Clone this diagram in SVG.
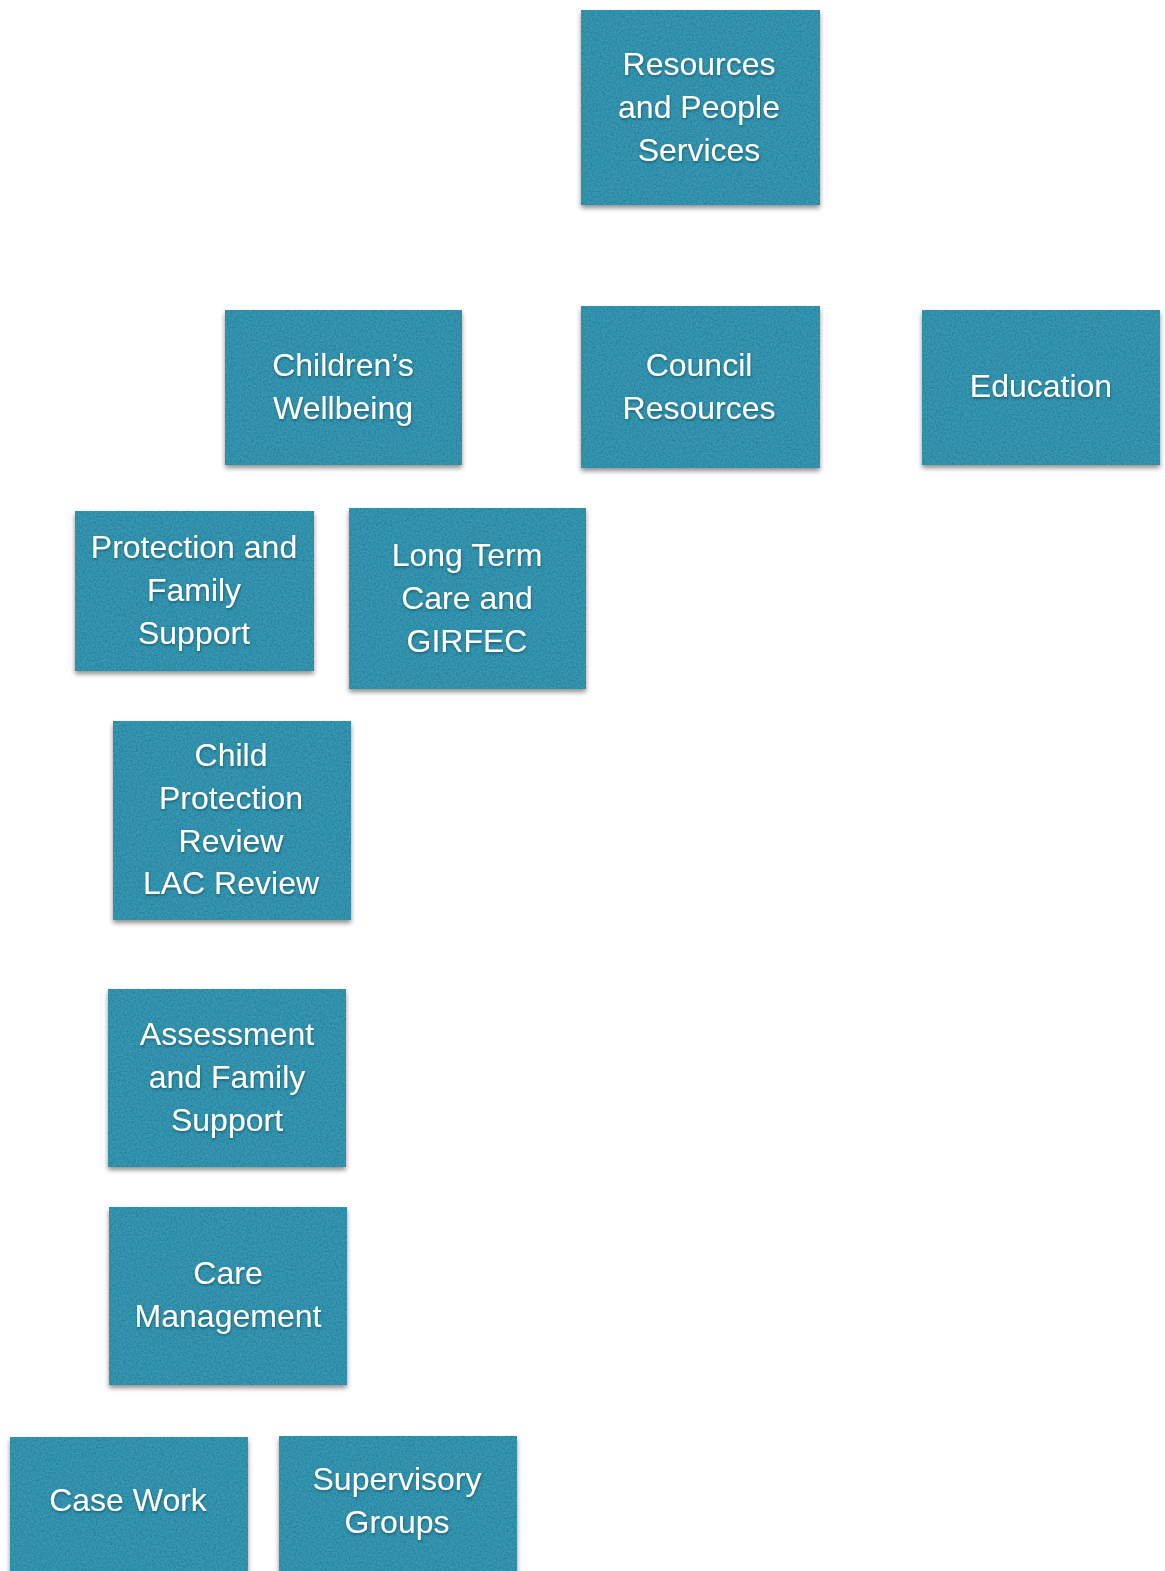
<svg xmlns="http://www.w3.org/2000/svg" width="1165" height="1571" viewBox="0 0 1165 1571">
<defs>
<filter id="box" x="-10%" y="-10%" width="120%" height="125%">
<feTurbulence type="fractalNoise" baseFrequency="0.55" numOctaves="2" seed="3" result="n"/>
<feColorMatrix in="n" type="matrix" values="0 0 0 0 0  0 0 0 0 0  0 0 0 0 0  0 0 0 0.7 -0.25" result="nm"/>
<feComposite in="nm" in2="SourceGraphic" operator="in" result="tex"/>
<feMerge result="bt"><feMergeNode in="SourceGraphic"/><feMergeNode in="tex"/></feMerge>
<feGaussianBlur in="SourceAlpha" stdDeviation="2.5" result="b"/>
<feOffset in="b" dx="0" dy="3" result="o"/>
<feComponentTransfer in="o" result="s"><feFuncA type="linear" slope="0.45"/></feComponentTransfer>
<feMerge><feMergeNode in="s"/><feMergeNode in="bt"/></feMerge>
</filter>
<filter id="ts" x="-5%" y="-20%" width="110%" height="150%">
<feDropShadow dx="0.5" dy="1.5" stdDeviation="1" flood-color="#0b3a48" flood-opacity="0.6"/>
</filter>
</defs>
<style>
.n rect{fill:#3598b4;filter:url(#box)}
.n text{font-family:"Liberation Sans",Arial,sans-serif;font-size:32px;fill:#ffffff;text-anchor:middle;filter:url(#ts)}
</style>
<rect width="1165" height="1571" fill="#ffffff"/>
<g id="connectors"/>
<g id="resources-people" class="n"><rect x="581" y="10" width="239" height="195"/><text x="699" y="75">Resources</text><text x="699" y="118">and People</text><text x="699" y="161">Services</text></g>
<g id="childrens-wellbeing" class="n"><rect x="225" y="310" width="237" height="155"/><text x="343" y="376">Children’s</text><text x="343" y="419">Wellbeing</text></g>
<g id="council-resources" class="n"><rect x="581" y="306" width="239" height="162"/><text x="699" y="376">Council</text><text x="699" y="419">Resources</text></g>
<g id="education" class="n"><rect x="922" y="310" width="238" height="155"/><text x="1041" y="397">Education</text></g>
<g id="protection-family" class="n"><rect x="75" y="511" width="239" height="160"/><text x="194" y="558">Protection and</text><text x="194" y="601">Family</text><text x="194" y="644">Support</text></g>
<g id="long-term-care" class="n"><rect x="349" y="508" width="237" height="181"/><text x="467" y="566">Long Term</text><text x="467" y="609">Care and</text><text x="467" y="652">GIRFEC</text></g>
<g id="child-protection-review" class="n"><rect x="113" y="721" width="238" height="199"/><text x="231" y="766">Child</text><text x="231" y="809">Protection</text><text x="231" y="852">Review</text><text x="231" y="894">LAC Review</text></g>
<g id="assessment-family" class="n"><rect x="108" y="989" width="238" height="178"/><text x="227" y="1045">Assessment</text><text x="227" y="1088">and Family</text><text x="227" y="1131">Support</text></g>
<g id="care-management" class="n"><rect x="109" y="1207" width="238" height="178"/><text x="228" y="1284">Care</text><text x="228" y="1327">Management</text></g>
<g id="case-work" class="n"><rect x="10" y="1437" width="238" height="140"/><text x="128" y="1511">Case Work</text></g>
<g id="supervisory-groups" class="n"><rect x="279" y="1436" width="238" height="140"/><text x="397" y="1490">Supervisory</text><text x="397" y="1533">Groups</text></g>
</svg>
